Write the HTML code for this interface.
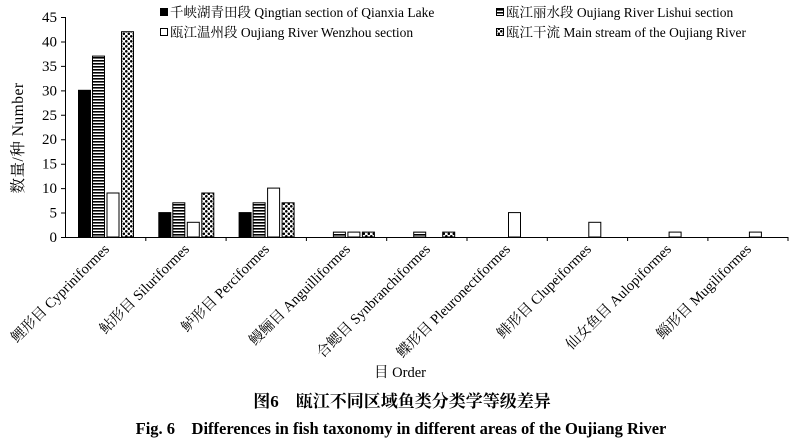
<!DOCTYPE html>
<html><head><meta charset="utf-8"><style>
body{margin:0;background:#fff}
svg{display:block;font-family:"Liberation Serif","Noto Serif CJK SC",serif}
</style></head><body>
<svg width="800" height="447" viewBox="0 0 800 447">
<defs>
<pattern id="st" width="4" height="3" patternUnits="userSpaceOnUse"><rect width="4" height="3" fill="#fff"/><rect width="4" height="1.6" fill="#000"/></pattern>
<pattern id="ck" width="5" height="5" patternUnits="userSpaceOnUse"><rect width="5" height="5" fill="#fff"/><circle cx="1.3" cy="1.3" r="1.3" fill="#000"/><circle cx="3.8" cy="3.8" r="1.3" fill="#000"/></pattern>
</defs>
<g font-size="15" fill="#000">
<g text-anchor="end">
<text x="57" y="242">0</text><text x="57" y="217.5">5</text><text x="57" y="193">10</text><text x="57" y="168.6">15</text><text x="57" y="144.2">20</text><text x="57" y="119.8">25</text><text x="57" y="95.3">30</text><text x="57" y="70.9">35</text><text x="57" y="46.4">40</text><text x="57" y="22">45</text>
</g>
<text transform="translate(23,138) rotate(-90)" text-anchor="middle" font-size="15.5" letter-spacing="0.5">数量/种 Number</text>
</g>
<g stroke="#000" stroke-width="1">
<line x1="65.5" y1="17" x2="65.5" y2="237"/>
<line x1="65" y1="237.5" x2="788" y2="237.5"/>
<path d="M61 237.5h4M61 213h4M61 188.6h4M61 164.2h4M61 139.8h4M61 115.3h4M61 90.9h4M61 66.4h4M61 42h4M61 17.5h4"/>
<path d="M145.8 237v4M226.1 237v4M306.4 237v4M386.7 237v4M467 237v4M547.3 237v4M627.6 237v4M707.9 237v4M788 237v4"/>
</g>
<g stroke="#000" stroke-width="1">
<rect x="78.5" y="90.3" width="12" height="146.7" fill="#000"/>
<rect x="92.5" y="56.1" width="12" height="180.9" fill="url(#st)"/>
<rect x="107" y="193" width="12" height="44" fill="#fff"/>
<rect x="121.5" y="31.7" width="12" height="205.3" fill="url(#ck)"/>
<rect x="158.8" y="212.6" width="12" height="24.4" fill="#000"/>
<rect x="172.8" y="202.8" width="12" height="34.2" fill="url(#st)"/>
<rect x="187.3" y="222.3" width="12" height="14.7" fill="#fff"/>
<rect x="201.8" y="193" width="12" height="44" fill="url(#ck)"/>
<rect x="239.1" y="212.6" width="12" height="24.4" fill="#000"/>
<rect x="253.1" y="202.8" width="12" height="34.2" fill="url(#st)"/>
<rect x="267.6" y="188.1" width="12" height="48.9" fill="#fff"/>
<rect x="282.1" y="202.8" width="12" height="34.2" fill="url(#ck)"/>
<rect x="333.4" y="232.1" width="12" height="4.9" fill="url(#st)"/>
<rect x="347.9" y="232.1" width="12" height="4.9" fill="#fff"/>
<rect x="362.4" y="232.1" width="12" height="4.9" fill="url(#ck)"/>
<rect x="413.7" y="232.1" width="12" height="4.9" fill="url(#st)"/>
<rect x="442.7" y="232.1" width="12" height="4.9" fill="url(#ck)"/>
<rect x="508.5" y="212.6" width="12" height="24.4" fill="#fff"/>
<rect x="588.8" y="222.3" width="12" height="14.7" fill="#fff"/>
<rect x="669.1" y="232.1" width="12" height="4.9" fill="#fff"/>
<rect x="749.4" y="232.1" width="12" height="4.9" fill="#fff"/>
</g>
<g font-size="14.5" text-anchor="end">
<text transform="translate(110,250) rotate(-45)">鲤形目 Cypriniformes</text>
<text transform="translate(190,250) rotate(-45)">鲇形目 Siluriformes</text>
<text transform="translate(270,250) rotate(-45)">鲈形目 Perciformes</text>
<text transform="translate(351,250) rotate(-45)">鳗鲡目 Anguilliformes</text>
<text transform="translate(431,250) rotate(-45)">合鳃目 Synbranchiformes</text>
<text transform="translate(511,250) rotate(-45)">鲽形目 Pleuronectiformes</text>
<text transform="translate(592,250) rotate(-45)">鲱形目 Clupeiformes</text>
<text transform="translate(672,250) rotate(-45)">仙女鱼目 Aulopiformes</text>
<text transform="translate(752,250) rotate(-45)">鲻形目 Mugiliformes</text>
</g>
<g font-size="13.5">
<rect x="160" y="8" width="8" height="8" fill="#000"/>
<text x="170" y="17">千峡湖青田段 Qingtian section of Qianxia Lake</text>
<rect x="160.5" y="28.5" width="7" height="7" fill="#fff" stroke="#000"/>
<text x="170" y="37">瓯江温州段 Oujiang River Wenzhou section</text>
<rect x="496.5" y="8.5" width="7" height="7" fill="url(#st)" stroke="#000"/>
<text x="506" y="17">瓯江丽水段 Oujiang River Lishui  section</text>
<rect x="496.5" y="28.5" width="7" height="7" fill="url(#ck)" stroke="#000"/>
<text x="506" y="37">瓯江干流 Main  stream of the Oujiang River</text>
</g>
<text x="400" y="377" font-size="14.5" text-anchor="middle">目  Order</text>
<text x="402" y="407" font-size="17" font-weight="bold" text-anchor="middle">图6　瓯江不同区域鱼类分类学等级差异</text>
<text x="401" y="434" font-size="16.5" font-weight="bold" text-anchor="middle">Fig. 6　Differences in fish taxonomy in different areas of the Oujiang River</text>
</svg>
</body></html>
